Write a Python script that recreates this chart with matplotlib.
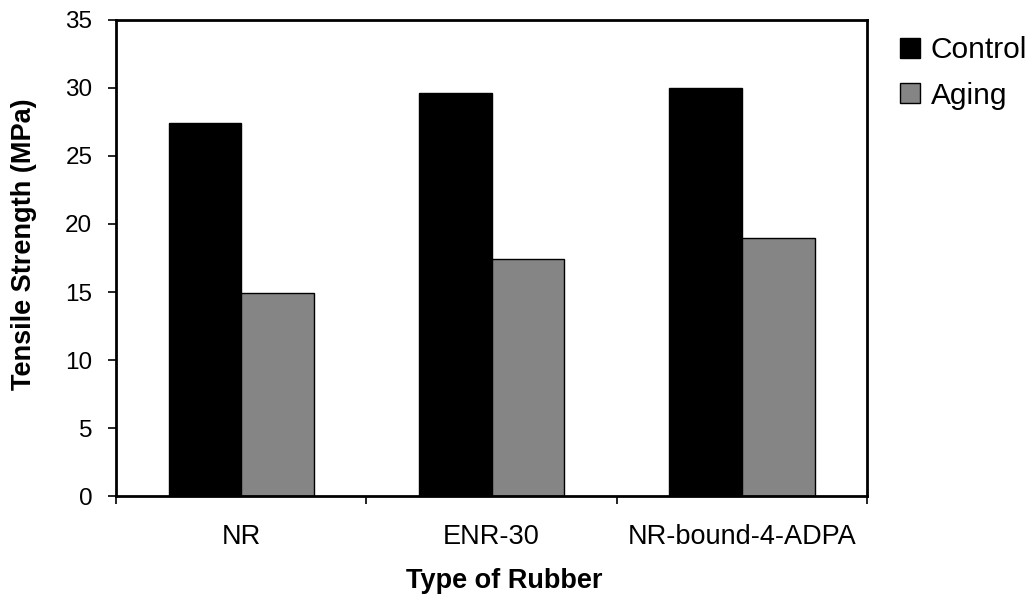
import numpy as np
import matplotlib
matplotlib.use('Agg')
import matplotlib.pyplot as plt
from matplotlib.lines import Line2D

plt.rcParams['font.family'] = ['Liberation Sans', 'DejaVu Sans']

rubbers = ['NR', 'ENR-30', 'NR-bound-4-ADPA']
control = [27.4, 29.6, 30.0]
aging = [14.9, 17.4, 19.0]
yticks = [0, 5, 10, 15, 20, 25, 30, 35]

fig = plt.figure(figsize=(10.3, 6), dpi=100)
ax = fig.add_axes([0.1126, 0.173, 0.7294, 0.794])

x = np.arange(len(rubbers))
w = 0.29
ax.bar(x - w / 2, control, w, color='black', edgecolor='black', linewidth=1)
ax.bar(x + w / 2, aging, w, color='#858585', edgecolor='black', linewidth=1)

ax.set_xlim(-0.5, len(rubbers) - 0.5)
ax.set_ylim(0, 35)
ax.set_yticks(yticks)
ax.set_xticks(x)
ax.set_xticklabels(rubbers)
ax.set_xticks(np.arange(len(rubbers) + 1) - 0.5, minor=True)
ax.tick_params(axis='x', which='major', length=0, pad=20, labelsize=19.5)
ax.tick_params(axis='x', which='minor', length=6, width=1.2, direction='out')
ax.tick_params(axis='y', length=6, width=1.2, direction='out', labelsize=17.5, pad=11)

for s in ax.spines.values():
    s.set_linewidth(2)
    s.set_color('black')

ax.set_xlabel('Type of Rubber', fontsize=19.5, fontweight='bold')
ax.set_ylabel('Tensile Strength (MPa)', fontsize=19.5, fontweight='bold')
ax.xaxis.set_label_coords(0.517, -0.15)
ax.yaxis.set_label_coords(-0.105, 0.53)

handles = [
    Line2D([], [], marker='s', linestyle='none', markersize=14,
           markerfacecolor='black', markeredgecolor='black'),
    Line2D([], [], marker='s', linestyle='none', markersize=14,
           markerfacecolor='#858585', markeredgecolor='black'),
]
fig.legend(handles, ['Control', 'Aging'], loc='upper left',
           bbox_to_anchor=(0.874, 0.94), frameon=False, fontsize=21.5,
           borderpad=0, borderaxespad=0, handlelength=0.65,
           handletextpad=0.38, labelspacing=0.6)

fig.savefig('out.png', dpi=100)
